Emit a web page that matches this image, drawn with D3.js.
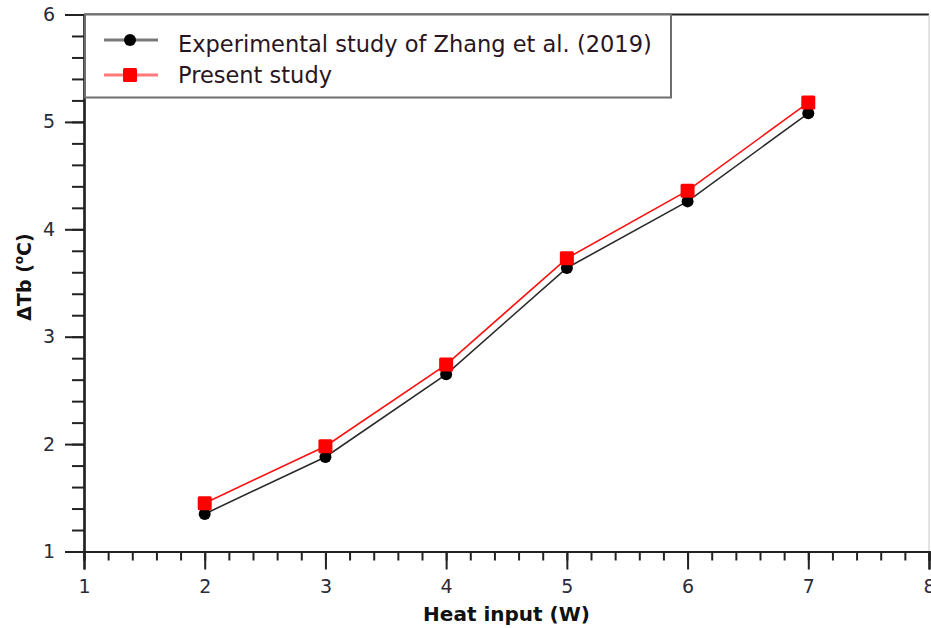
<!DOCTYPE html>
<html>
<head>
<meta charset="utf-8">
<script src="https://cdn.jsdelivr.net/npm/d3@7"></script>
<style>
  html, body { margin: 0; padding: 0; background: #fff; }
  svg { display: block; font-family: "DejaVu Sans", Verdana, sans-serif; }
</style>
</head>
<body>
<svg id="chart" width="931" height="628"></svg>
<script>
// Heat input (W) on x
const heatInput = [2, 3, 4, 5, 6, 7];
// Bottom temperature rise ΔTb (°C)
const zhangExperimental = [1.35, 1.88, 2.65, 3.64, 4.26, 5.08];
const presentStudy = [1.45, 1.98, 2.74, 3.73, 4.36, 5.18];
const seriesNames = ["Experimental study of Zhang et al. (2019)", "Present study"];
const xTicks = [1, 2, 3, 4, 5, 6, 7, 8];
const yTicks = [1, 2, 3, 4, 5, 6];

const svg = d3.select("#chart");
const plotLeft = 84, plotRight = 929, plotTop = 14.5, plotBottom = 551.5;

const x = d3.scaleLinear().domain([1, 8]).range([plotLeft, plotRight]);
const y = d3.scaleLinear().domain([1, 6]).range([plotBottom, plotTop]);

// frame: top black edge, light right edge
svg.append("line").attr("x1", plotLeft).attr("x2", plotRight).attr("y1", plotTop).attr("y2", plotTop)
  .attr("stroke", "#222").attr("stroke-width", 2);
svg.append("line").attr("x1", plotRight).attr("x2", plotRight).attr("y1", plotTop).attr("y2", plotBottom)
  .attr("stroke", "#c8c8c8").attr("stroke-width", 1);

// minor ticks every 0.2
const minorX = d3.range(1, 8.001, 0.2).map(v => +v.toFixed(2));
const minorY = d3.range(1, 6.001, 0.2).map(v => +v.toFixed(2));

const xAxisMinor = svg.append("g").attr("transform", `translate(0,${plotBottom})`)
  .call(d3.axisBottom(x).tickValues(minorX).tickSize(9).tickFormat(""));
const xAxis = svg.append("g").attr("transform", `translate(0,${plotBottom})`)
  .call(d3.axisBottom(x).tickValues(xTicks).tickSize(18).tickPadding(10).tickFormat(d3.format("d")));
const yAxisMinor = svg.append("g").attr("transform", `translate(${plotLeft},0)`)
  .call(d3.axisLeft(y).tickValues(minorY).tickSize(12).tickFormat(""));
const yAxis = svg.append("g").attr("transform", `translate(${plotLeft},0)`)
  .call(d3.axisLeft(y).tickValues(yTicks).tickSize(19).tickPadding(10).tickFormat(d3.format("d")));

[xAxisMinor, xAxis, yAxisMinor, yAxis].forEach(g => {
  g.selectAll("path.domain").attr("stroke", "#222").attr("stroke-width", 2.2);
  g.selectAll(".tick line").attr("stroke", "#222").attr("stroke-width", 2);
});
[xAxis, yAxis].forEach(g => g.selectAll(".tick text")
  .attr("font-size", 19).attr("fill", "#2a2a3a").attr("font-family", "DejaVu Sans, sans-serif"));

// axis titles
svg.append("text").attr("x", (plotLeft + plotRight) / 2).attr("y", 621)
  .attr("text-anchor", "middle").attr("font-size", 20).attr("font-weight", "bold")
  .attr("fill", "#111").text("Heat input (W)");

const yTitle = svg.append("text")
  .attr("transform", "translate(31,277) rotate(-90)")
  .attr("text-anchor", "middle").attr("font-size", 19).attr("font-weight", "bold").attr("fill", "#111");
yTitle.append("tspan").text("ΔTb (");
yTitle.append("tspan").attr("font-size", 12).attr("dy", -8).text("o");
yTitle.append("tspan").attr("dy", 8).text("C)");

// series lines and markers
const line = d3.line().x(d => x(d[0])).y(d => y(d[1]));
const blackPts = heatInput.map((h, i) => [h, zhangExperimental[i]]);
const redPts = heatInput.map((h, i) => [h, presentStudy[i]]);

svg.append("path").datum(blackPts).attr("d", line).attr("fill", "none")
  .attr("stroke", "#2a2a2a").attr("stroke-width", 1.6);
svg.append("path").datum(redPts).attr("d", line).attr("fill", "none")
  .attr("stroke", "#ff1010").attr("stroke-width", 1.6);

svg.append("g").selectAll("circle").data(blackPts).join("circle")
  .attr("cx", d => x(d[0])).attr("cy", d => y(d[1])).attr("r", 6).attr("fill", "#000");
svg.append("g").selectAll("rect").data(redPts).join("rect")
  .attr("x", d => x(d[0]) - 7).attr("y", d => y(d[1]) - 7)
  .attr("width", 14).attr("height", 14).attr("rx", 1.5).attr("fill", "#ff0000");

// legend
const legend = svg.append("g");
legend.append("rect").attr("x", plotLeft + 1).attr("y", plotTop).attr("width", 586).attr("height", 83)
  .attr("fill", "#fff").attr("stroke", "#6e6e6e").attr("stroke-width", 2);
const legendRows = [
  { name: seriesNames[0], lineColor: "#7a7a7a", y: 40, base: 51.5, marker: "circle" },
  { name: seriesNames[1], lineColor: "#ff7a7a", y: 75, base: 83, marker: "square" }
];
legendRows.forEach(r => {
  legend.append("line").attr("x1", 104).attr("x2", 158).attr("y1", r.y).attr("y2", r.y)
    .attr("stroke", r.lineColor).attr("stroke-width", 3);
  if (r.marker === "circle") {
    legend.append("circle").attr("cx", 130).attr("cy", r.y).attr("r", 6).attr("fill", "#000");
  } else {
    legend.append("rect").attr("x", 123).attr("y", r.y - 7).attr("width", 14).attr("height", 14)
      .attr("rx", 1.5).attr("fill", "#ff0000");
  }
  legend.append("text").attr("x", 178).attr("y", r.base).attr("font-size", 22.5)
    .attr("fill", "#2a1420").text(r.name);
});
</script>
</body>
</html>
